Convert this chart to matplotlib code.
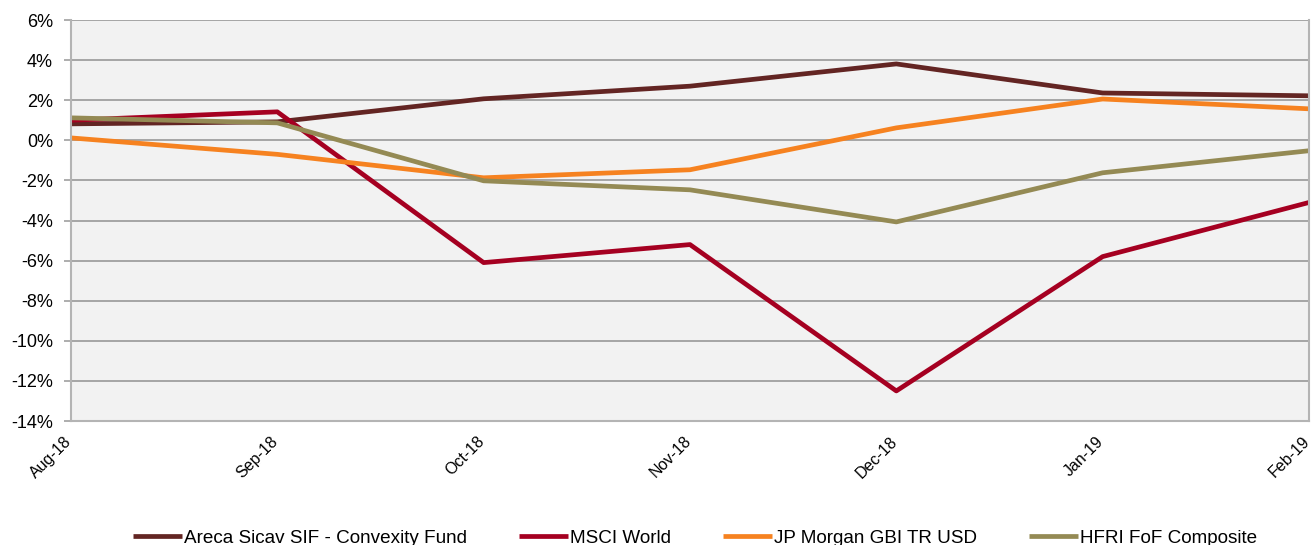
import matplotlib
matplotlib.use('Agg')
import matplotlib.pyplot as plt
import matplotlib.transforms as mtransforms
from matplotlib.ticker import FuncFormatter

plt.rcParams['font.family'] = ['Liberation Sans', 'DejaVu Sans']

meses = ['Aug-18', 'Sep-18', 'Oct-18', 'Nov-18', 'Dec-18', 'Jan-19', 'Feb-19']

areca = [0.82, 0.92, 2.07, 2.70, 3.81, 2.36, 2.22]
msci = [1.00, 1.42, -6.10, -5.20, -12.50, -5.80, -3.10]
jpm = [0.12, -0.70, -1.87, -1.47, 0.62, 2.06, 1.57]
hfri = [1.12, 0.87, -2.02, -2.47, -4.07, -1.62, -0.52]

series = [
    ('Areca Sicav SIF - Convexity Fund', areca, '#632523'),
    ('MSCI World', msci, '#a50021'),
    ('JP Morgan GBI TR USD', jpm, '#f68220'),
    ('HFRI FoF Composite', hfri, '#948a54'),
]

fig = plt.figure(figsize=(13.14, 5.45), dpi=100)
ax = fig.add_axes([0.054, 0.2275, 0.9422, 0.7358])
ax.set_facecolor('#f2f2f2')

x = range(len(meses))
for nombre, valores, color in series:
    ax.plot(x, valores, color=color, lw=3.4, label=nombre, solid_capstyle='butt')

ax.set_xlim(0, len(meses) - 1)
ax.set_ylim(-14, 6)
ax.set_yticks(range(-14, 7, 2))
ax.yaxis.set_major_formatter(FuncFormatter(lambda v, p: f'{int(v)}%'))
ax.grid(axis='y', color='#a0a0a0', lw=1.3)
ax.set_axisbelow(True)

ax.set_xticks(list(x))
ax.set_xticklabels(meses, rotation=45, ha='right', va='top', fontsize=11.5)
ax.tick_params(axis='x', length=0, pad=9)
ax.tick_params(axis='y', length=5, width=1.2, color='#a0a0a0', labelsize=13, pad=8)

# correr un poco las etiquetas del eje x hacia la derecha
desplazamiento = mtransforms.ScaledTranslation(4 / 100, 0, fig.dpi_scale_trans)
for etiqueta in ax.get_xticklabels():
    etiqueta.set_transform(etiqueta.get_transform() + desplazamiento)

ax.spines['top'].set_visible(False)
for lado in ['left', 'bottom', 'right']:
    ax.spines[lado].set_color('#b4b4b4')
    ax.spines[lado].set_linewidth(1.5)

fig.legend(loc='center', bbox_to_anchor=(0.529, 0.012), ncol=4, frameon=False,
           fontsize=13.6, handlelength=2.6, handletextpad=0.1, columnspacing=2.75)

fig.savefig('out.png', dpi=100)
